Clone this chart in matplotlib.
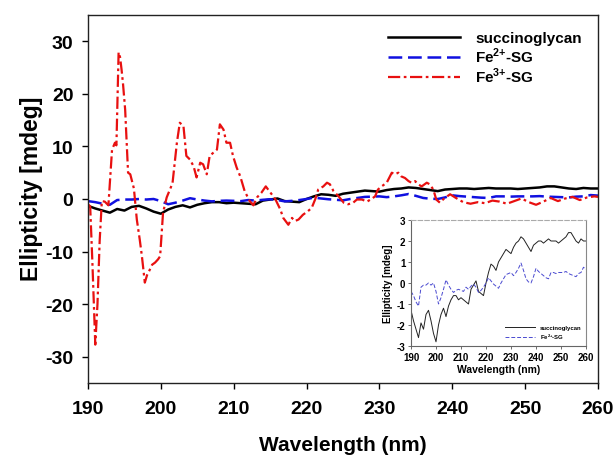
import matplotlib
matplotlib.use("Agg")
import matplotlib.pyplot as plt

plt.rcParams["font.family"] = ["Liberation Sans", "DejaVu Sans"]
plt.rcParams["font.weight"] = "bold"
plt.rcParams["mathtext.fontset"] = "custom"
plt.rcParams["mathtext.rm"] = "Liberation Sans:bold"
plt.rcParams["mathtext.bf"] = "Liberation Sans:bold"
plt.rcParams["axes.unicode_minus"] = False

# CD spectra, 1 nm steps (succinoglycan and Fe2+ complex)
wavelength = list(range(190, 261))
succinoglycan = [
    -1.3, -1.8, -2.2, -2.6, -1.9, -2.2, -1.5, -1.3, -1.8, -2.4,
    -2.8, -2.0, -1.5, -1.2, -1.6, -1.1, -0.8, -0.6, -0.6, -0.8,
    -0.7, -0.8, -0.9, -1.0, -0.3, -0.1, 0.1, -0.4, -0.5, -0.6,
    0.0, 0.5, 0.9, 0.8, 0.6, 1.0, 1.2, 1.4, 1.6, 1.5,
    1.4, 1.7, 1.9, 2.0, 2.2, 2.1, 1.9, 1.7, 1.5, 1.8,
    1.9, 2.0, 2.0, 1.9, 2.0, 2.1, 2.0, 2.0, 2.0, 1.9,
    2.0, 2.1, 2.2, 2.4, 2.4, 2.2, 2.0, 1.9, 2.1, 2.0,
    2.0,
]
fe2_sg = [
    -0.4, -0.6, -0.9, -1.1, -0.2, -0.1, -0.1, 0.0, -0.1, 0.0,
    -0.4, -1.0, -0.7, -0.3, 0.15, -0.1, -0.3, -0.45, -0.35, -0.3,
    -0.35, -0.4, -0.2, -0.3, -0.15, -0.05, -0.2, -0.45, -0.35, -0.2,
    0.0, 0.25, 0.1, -0.05, -0.15, -0.25, 0.0, 0.2, 0.4, 0.45,
    0.5, 0.35, 0.5, 0.7, 0.95, 0.6, 0.2, 0.05, 0.0, 0.3,
    0.7, 0.55, 0.45, 0.35, 0.25, 0.2, 0.5, 0.5, 0.45, 0.5,
    0.5, 0.5, 0.55, 0.45, 0.4, 0.35, 0.3, 0.45, 0.5, 0.75,
    0.65,
]

# Fe3+ complex, finer sampling
fe3_nm = [
    190.0, 190.3, 190.6, 191.0, 191.3, 191.6, 191.9, 192.3, 192.8, 193.0,
    193.3, 193.7, 193.9, 194.2, 194.4, 194.6, 194.8, 195.1, 195.3, 195.5,
    195.8, 196.3, 196.7, 197.1, 197.4, 197.8, 198.1, 198.5, 198.8, 199.2,
    199.6, 199.9, 200.3, 200.8, 201.25, 201.6, 202.2, 202.6, 203.1, 203.5,
    204.0, 204.5, 204.9, 205.4, 205.8, 206.3, 206.7, 207.2, 207.7, 208.1,
    208.6, 209.0, 209.5, 209.9, 210.4, 210.9, 211.5, 212.2, 212.7, 213.2,
    213.8, 214.4, 215.0, 215.7, 216.4, 216.8, 217.5, 218.0, 218.4, 218.9,
    219.5, 220.2, 220.7, 221.2, 221.6, 222.3, 222.8, 223.2, 223.7, 224.4,
    225.1, 225.7, 226.4, 226.9, 227.6, 228.3, 228.9, 229.4, 229.8, 230.3,
    231.0, 231.7, 232.1, 232.6, 233.0, 233.5, 234.0, 234.4, 234.9, 235.3,
    235.8, 236.5, 236.9, 237.4, 237.8, 238.3, 238.8, 239.7, 240.5, 241.5,
    242.5, 243.5, 244.5, 245.5, 246.5, 247.5, 248.5, 249.5, 250.5, 251.5,
    252.5, 253.5, 254.5, 255.5, 256.5, 257.5, 258.5, 259.5, 260.0,
]
fe3_sg = [
    -1.0, -1.4, -12.0, -27.7, -20.0, -8.0, -0.4, -0.5, -1.2, 3.0,
    9.4, 10.7, 10.2, 27.9, 27.0, 24.7, 22.0, 17.0, 11.0, 5.0,
    4.7, 2.0, -3.9, -7.7, -10.9, -15.9, -14.5, -13.4, -12.5, -12.1,
    -11.5, -10.9, -2.6, 0.3, 1.8, 3.0, 10.7, 14.5, 13.9, 8.2,
    7.5, 6.2, 4.1, 6.9, 6.6, 4.7, 8.2, 8.8, 9.4, 14.2,
    13.2, 10.7, 10.7, 8.2, 6.0, 4.3, 1.5, -0.4, -1.2, 0.3,
    1.2, 2.4, 1.3, 0.0, -2.0, -3.6, -4.9, -3.6, -4.2, -3.9,
    -3.0, -2.3, -1.7, 0.0, 1.8, 2.4, 3.1, 2.8, 1.5, 0.5,
    -0.7, -1.0, -0.7, -0.1, -0.1, -0.5, 0.0, 0.5, 1.8, 2.4,
    3.1, 5.0, 4.7, 5.0, 4.3, 4.0, 3.4, 3.1, 3.4, 2.8,
    2.4, 3.1, 2.8, 1.8, -0.1, -0.7, 0.0, 0.9, 0.2, -0.6,
    -0.9, -0.6, -0.8, -0.3, -0.5, -0.9, -0.4, 0.1, -0.6, -1.1,
    -0.5, 0.2, -0.4, 0.1, 0.4, -0.2, 0.3, 0.5, 0.4,
]

labels = ["succinoglycan", "Fe$^{2{+}}$-SG", "Fe$^{3{+}}$-SG"]
x_ticks = list(range(190, 261, 10))
y_ticks = list(range(-30, 31, 10))
inset_y_ticks = list(range(-3, 4))

fig = plt.figure(figsize=(6.13, 4.56), dpi=100)
ax = fig.add_axes([88 / 613, 1 - 384 / 456, 510 / 613, 368 / 456])

ax.plot(wavelength, succinoglycan, color="black", lw=1.8, label=labels[0])
ax.plot(wavelength, fe2_sg, color="#1010e0", lw=1.8,
        linestyle=(0, (5.5, 2.3)), label=labels[1])
ax.plot(fe3_nm, fe3_sg, color="#e81010", lw=1.6,
        linestyle=(0, (5.5, 1.6, 1.2, 1.6)), label=labels[2])

ax.set_xlim(190, 260)
ax.set_ylim(-35, 35)
ax.set_xticks(x_ticks)
ax.set_yticks(y_ticks)
ax.tick_params(direction="out", length=4.5, width=1, labelsize=14, pad=6)
ax.tick_params(axis="x", pad=8)
for s in ax.spines.values():
    s.set_linewidth(1)
    s.set_color("#222222")
ax.set_xlabel("Wavelength (nm)", fontsize=15, fontweight="bold")
ax.set_ylabel("Ellipticity [mdeg]", fontsize=16.5, fontweight="bold")
ax.xaxis.set_label_coords(0.5, -0.14)
ax.yaxis.set_label_coords(-0.088, 0.53)

ax.legend(loc="upper left", bbox_to_anchor=((388 - 88) / 510, (384 - 32) / 368),
          frameon=False, fontsize=11, handlelength=4.7, handletextpad=1.0,
          labelspacing=0.05, borderpad=0, borderaxespad=0)

# inset: the two weaker spectra on their own scale
ins = fig.add_axes([411 / 613, 1 - 347 / 456, 175 / 613, 126 / 456])
ins.plot(wavelength, succinoglycan, color="#222222", lw=0.7, label=labels[0])
ins.plot(wavelength, fe2_sg, color="#4a4ad0", lw=0.7,
         linestyle=(0, (4, 2)), label=labels[1])
ins.set_xlim(190, 260)
ins.set_ylim(-3, 3)
ins.set_xticks(x_ticks)
ins.set_yticks(inset_y_ticks)
ins.tick_params(direction="out", length=2, width=0.6, labelsize=7, pad=2,
                color="#555555")
ins.spines["left"].set_color("#666666")
ins.spines["bottom"].set_color("#666666")
ins.spines["right"].set_color("#888888")
ins.spines["top"].set_color("#aaaaaa")
ins.spines["top"].set_linestyle((0, (4, 2)))
for s in ins.spines.values():
    s.set_linewidth(0.8)
ins.set_xlabel("Wavelength (nm)", fontsize=7.5, fontweight="bold", labelpad=2)
ins.set_ylabel("Ellipticity [mdeg]", fontsize=7, fontweight="bold", labelpad=3)
ins.legend(loc="lower right", frameon=False, fontsize=4.3, handlelength=5,
           handletextpad=0.8, labelspacing=0.3, borderaxespad=0.4)

fig.savefig("out.png", dpi=100)
